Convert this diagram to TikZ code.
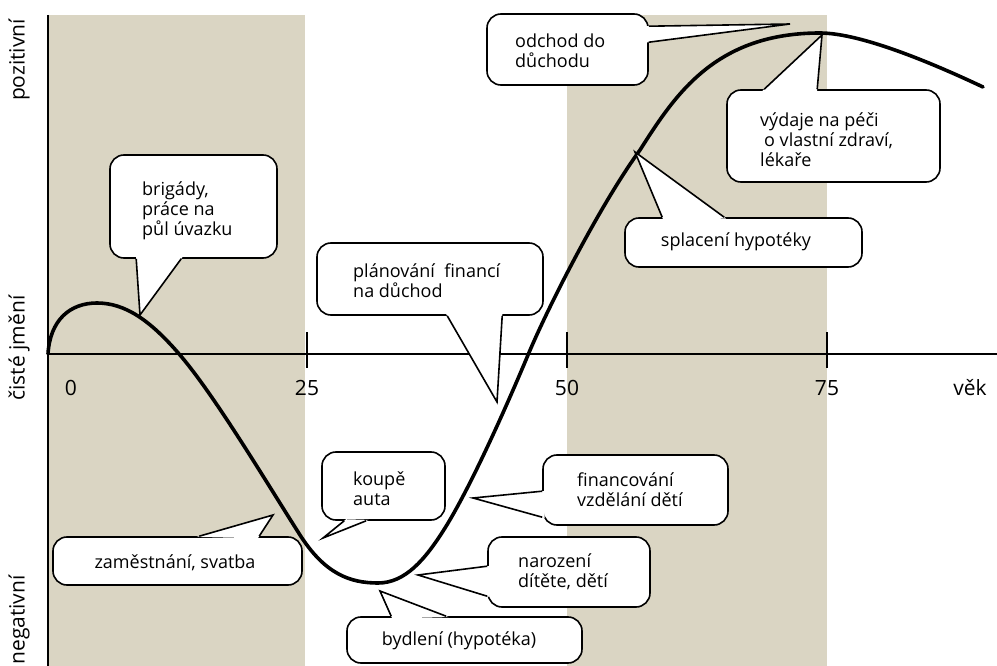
\documentclass[tikz,border=0pt]{standalone}
\usepackage{fontspec}
\setmainfont{Open Sans}
\usetikzlibrary{calc}
\definecolor{bandcol}{RGB}{218,213,195}
% pointer of a speech bubble: base point, tip, base point
\newcommand\callptr[3]{%
  \fill[white] ($(#1)!-2.5pt!(#2)$) -- (#2) -- ($(#3)!-2.5pt!(#2)$) -- cycle;
  \draw[ptr] (#1) -- (#2) -- (#3);}
\begin{document}
\begin{tikzpicture}[x=1pt,y=-1pt,
  band/.style={fill=bandcol},
  axisline/.style={line width=1.6pt},
  curve/.style={line width=3.6pt, line join=round, line cap=round},
  bubble/.style={draw=black, fill=white, line width=1.6pt, rounded corners=14pt, inner sep=0pt},
  btext/.style={inner sep=0pt, align=left, font=\fontsize{18}{20}\selectfont},
  ptr/.style={line width=1.6pt, line join=miter},
  axlabel/.style={font=\fontsize{21}{24}\selectfont, inner sep=0pt},
  sidelabel/.style={font=\fontsize{21}{24}\selectfont, inner sep=0pt, rotate=90}]
\useasboundingbox (0,0) rectangle (997,666);

% shaded age bands
\fill[band] (48,15) rectangle (305,666);
\fill[band] (567,15) rectangle (827,666);

% axes and ticks
\coordinate (yTop) at (48,15);
\coordinate (yBot) at (48,666);
\coordinate (origin) at (48,354);
\coordinate (xEnd) at (997,354);
\draw[axisline] (yTop) -- (yBot);
\draw[axisline] (origin) -- (xEnd);
\foreach \tx in {307,567,827}
  \draw[axisline] (\tx,332) -- (\tx,368);

% axis labels
\node[axlabel] (l0) at (71,388) {0};
\node[axlabel] (l25) at (307,388) {25};
\node[axlabel] (l50) at (567,388) {50};
\node[axlabel] (l75) at (827,388) {75};
\node[axlabel] (lvek) at (970,388) {věk};
\node[sidelabel] (pos) at (19,60) {pozitivní};
\node[sidelabel] (net) at (19,348) {čisté jmění};
\node[sidelabel] (neg) at (19,620) {negativní};

% net worth over lifetime
\draw[curve] (origin)
  .. controls (50,320) and (70,303) .. (97,303)
  .. controls (125,303) and (150,320) .. (180,355)
  .. controls (215,396) and (265,480) .. (300,535)
  .. controls (325,574) and (350,583) .. (378,583)
  .. controls (405,583) and (425,560) .. (445,528)
  .. controls (470,488) and (505,410) .. (528,355)
  .. controls (548,307) and (600,205) .. (640,150)
  .. controls (675,95) and (715,33) .. (820,33)
  .. controls (860,33) and (930,62) .. (983,87);

% speech bubbles
\node[bubble, minimum width=167pt, minimum height=103pt] (brigBox) at (193.5,206.5) {};
\coordinate (brigA) at ($(brigBox.south west)+(27,0)$);
\coordinate (brigB) at ($(brigBox.south west)+(72,0)$);
\coordinate (brigT) at (140,315);
\callptr{brigA}{brigT}{brigB}
\node[btext, anchor=west] (brig) at (142,211) {brigády,\\práce na\\půl úvazku};

\node[bubble, minimum width=226pt, minimum height=72pt] (planBox) at (430,279) {};
\coordinate (planA) at ($(planBox.south west)+(131,0)$);
\coordinate (planB) at ($(planBox.south west)+(186,0)$);
\coordinate (planT) at (497,402);
\callptr{planA}{planT}{planB}
\node[btext, anchor=west] (plan) at (353,281) {plánování\ \ financí\\na důchod};

\node[bubble, minimum width=161pt, minimum height=71pt] (odchBox) at (567.5,49.5) {};
\coordinate (odchA) at ($(odchBox.north east)+(0,13)$);
\coordinate (odchB) at ($(odchBox.north east)+(0,29)$);
\coordinate (odchT) at (790,24);
\callptr{odchA}{odchT}{odchB}
\node[btext, anchor=west] (odch) at (515,51) {odchod do\\důchodu};

\node[bubble, minimum width=213pt, minimum height=92pt] (vydBox) at (833.5,136) {};
\coordinate (vydA) at ($(vydBox.north west)+(38,0)$);
\coordinate (vydB) at ($(vydBox.north west)+(91,0)$);
\coordinate (vydT) at (822,35);
\callptr{vydA}{vydT}{vydB}
\node[btext, anchor=west] (vyd) at (760,140) {výdaje na péči\\\hspace*{4pt}o vlastní zdraví,\\lékaře};

\node[bubble, minimum width=237pt, minimum height=49pt] (splBox) at (743.5,242.5) {};
\coordinate (splA) at ($(splBox.north west)+(38,0)$);
\coordinate (splB) at ($(splBox.north west)+(100,0)$);
\coordinate (splT) at (635,152);
\callptr{splA}{splT}{splB}
\node[btext] (spl) at (736,242) {splacení hypotéky};

\node[bubble, minimum width=249pt, minimum height=48pt] (zamBox) at (177.5,561) {};
\coordinate (zamA) at ($(zamBox.north west)+(147,0)$);
\coordinate (zamB) at ($(zamBox.north west)+(207,0)$);
\coordinate (zamT) at (273,515);
\callptr{zamA}{zamT}{zamB}
\node[btext] (zam) at (175,563) {zaměstnání, svatba};

\node[bubble, minimum width=123pt, minimum height=68pt] (koupBox) at (383.5,486) {};
\coordinate (koupA) at ($(koupBox.south west)+(23,0)$);
\coordinate (koupB) at ($(koupBox.south west)+(45,0)$);
\coordinate (koupT) at (323,538);
\callptr{koupA}{koupT}{koupB}
\node[btext, anchor=west] (koup) at (353,489) {koupě\\auta};

\node[bubble, minimum width=185pt, minimum height=70pt] (finBox) at (635.5,490) {};
\coordinate (finA) at ($(finBox.north west)+(0,37)$);
\coordinate (finB) at ($(finBox.north west)+(0,63)$);
\coordinate (finT) at (473,498);
\callptr{finA}{finT}{finB}
\node[btext, anchor=west] (fin) at (577,490) {financování\\vzdělání dětí};

\node[bubble, minimum width=162pt, minimum height=70pt] (narBox) at (569,572) {};
\coordinate (narA) at ($(narBox.north west)+(0,30)$);
\coordinate (narB) at ($(narBox.north west)+(0,60)$);
\coordinate (narT) at (418,575);
\callptr{narA}{narT}{narB}
\node[btext, anchor=west] (nar) at (518,572) {narození\\dítěte, dětí};

\node[bubble, minimum width=235pt, minimum height=46pt] (bydBox) at (464.5,640) {};
\coordinate (bydA) at ($(bydBox.north west)+(45,0)$);
\coordinate (bydB) at ($(bydBox.north west)+(100,0)$);
\coordinate (bydT) at (380,591);
\callptr{bydA}{bydT}{bydB}
\node[btext] (byd) at (459,641) {bydlení (hypotéka)};
\end{tikzpicture}
\end{document}
